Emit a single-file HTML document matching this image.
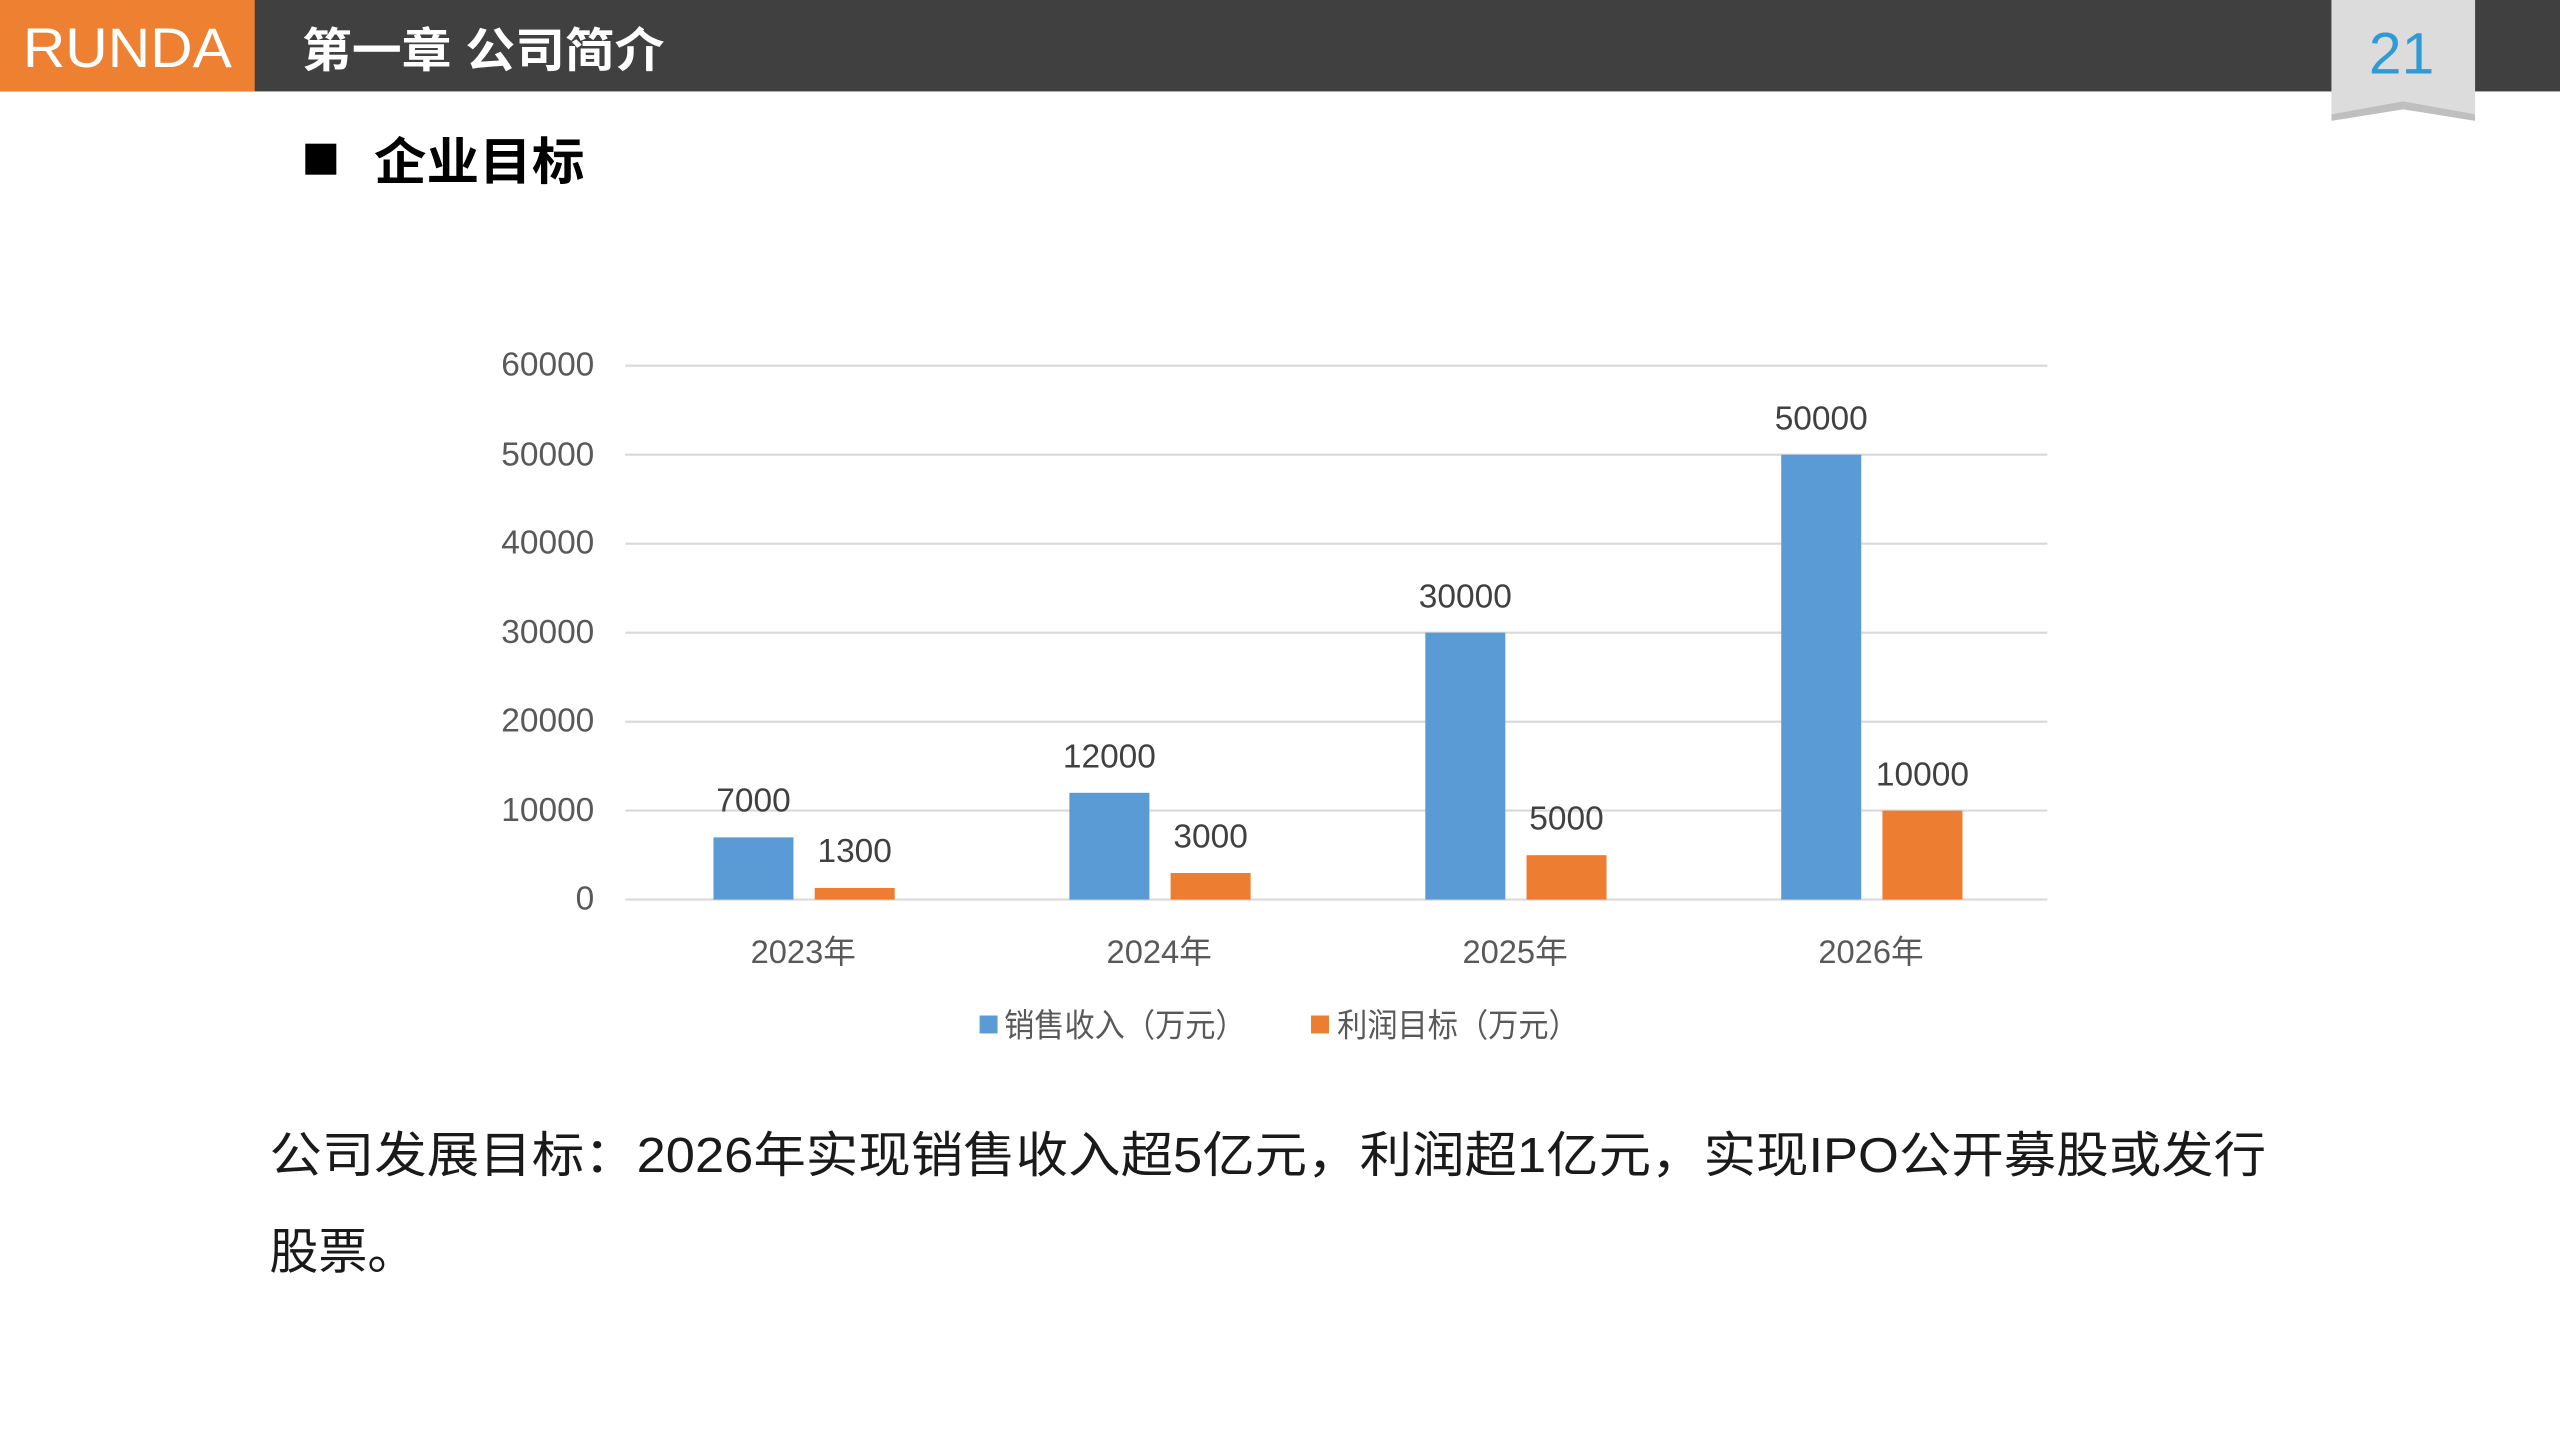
<!DOCTYPE html>
<html><head><meta charset="utf-8"><style>
html,body{margin:0;padding:0;background:#fff;overflow:hidden}
svg{display:block}
text{font-family:"Liberation Sans","Noto Sans CJK SC",sans-serif}
</style></head><body>
<svg width="2560" height="1440" viewBox="0 0 1568 882" xmlns="http://www.w3.org/2000/svg">
<rect x="0" y="0" width="1568" height="56" fill="#404040"/>
<rect x="0" y="0" width="156" height="56" fill="#EE8131"/>
<text x="78" y="41" font-size="34" fill="#fff" text-anchor="middle" textLength="128" lengthAdjust="spacingAndGlyphs">RUNDA</text>
<text x="185" y="41" font-size="29" fill="#fff" font-weight="bold" textLength="222" lengthAdjust="spacingAndGlyphs">第一章  公司简介</text>
<polygon points="1428,0 1516,0 1516,70 1472,62 1428,70" fill="#dcdcdc"/>
<polygon points="1428,70 1472,62 1516,70 1516,74 1472,67 1428,74" fill="#bfbfbf"/>
<text x="1471" y="45" font-size="36" fill="#2E9AD6" text-anchor="middle">21</text>
<rect x="187" y="88" width="19" height="19" fill="#000"/>
<text x="229" y="110" font-size="31" font-weight="bold" fill="#000" textLength="129" lengthAdjust="spacingAndGlyphs">企业目标</text>
<g stroke="#d9d9d9" stroke-width="1.3">
<line x1="383" x2="1254" y1="224" y2="224"/><line x1="383" x2="1254" y1="278.5" y2="278.5"/>
<line x1="383" x2="1254" y1="333" y2="333"/><line x1="383" x2="1254" y1="387.5" y2="387.5"/>
<line x1="383" x2="1254" y1="442" y2="442"/><line x1="383" x2="1254" y1="496.5" y2="496.5"/>
<line x1="383" x2="1254" y1="551" y2="551"/>
</g>
<g font-size="20.5" fill="#595959" text-anchor="end">
<text x="364" y="230">60000</text><text x="364" y="285">50000</text><text x="364" y="339">40000</text>
<text x="364" y="394">30000</text><text x="364" y="448">20000</text><text x="364" y="503">10000</text><text x="364" y="557">0</text>
</g>
<g fill="#5B9BD5">
<rect x="437" y="512.9" width="49" height="38.1"/>
<rect x="655" y="485.6" width="49" height="65.4"/>
<rect x="873" y="387.5" width="49" height="163.5"/>
<rect x="1091" y="278.5" width="49" height="272.5"/>
</g>
<g fill="#ED7D31">
<rect x="499" y="543.9" width="49" height="7.1"/>
<rect x="717" y="534.7" width="49" height="16.3"/>
<rect x="935" y="523.8" width="49" height="27.2"/>
<rect x="1153" y="496.5" width="49" height="54.5"/>
</g>
<g font-size="20.5" fill="#404040" text-anchor="middle">
<text x="461.5" y="497">7000</text><text x="523.5" y="528">1300</text>
<text x="679.5" y="470">12000</text><text x="741.5" y="519">3000</text>
<text x="897.5" y="372">30000</text><text x="959.5" y="508">5000</text>
<text x="1115.5" y="263">50000</text><text x="1177.5" y="481">10000</text>
</g>
<g font-size="20" fill="#595959" text-anchor="middle">
<text x="492" y="590">2023年</text><text x="710" y="590">2024年</text>
<text x="928" y="590">2025年</text><text x="1146" y="590">2026年</text>
</g>
<rect x="600" y="622" width="11" height="11" fill="#5B9BD5"/>
<text x="615" y="635" font-size="20" fill="#595959" textLength="148" lengthAdjust="spacingAndGlyphs">销售收入（万元）</text>
<rect x="803" y="622" width="11" height="11" fill="#ED7D31"/>
<text x="819" y="635" font-size="20" fill="#595959" textLength="148" lengthAdjust="spacingAndGlyphs">利润目标（万元）</text>
<text x="165" y="718" font-size="30" fill="#1a1a1a" textLength="1223" lengthAdjust="spacingAndGlyphs">公司发展目标：2026年实现销售收入超5亿元，利润超1亿元，实现IPO公开募股或发行</text>
<text x="165" y="777" font-size="30" fill="#1a1a1a">股票。</text>
</svg>
</body></html>
